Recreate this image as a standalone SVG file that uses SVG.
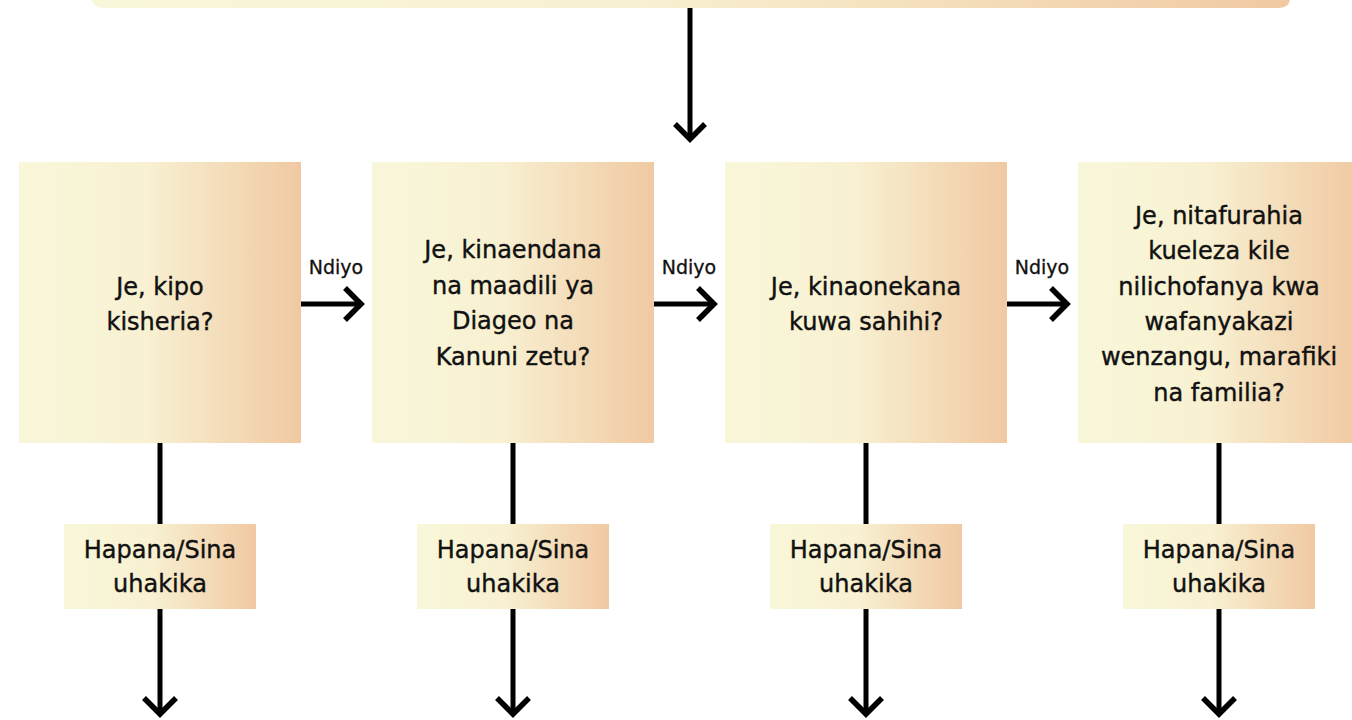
<svg xmlns="http://www.w3.org/2000/svg" width="1352" height="720" viewBox="0 0 1352 720">
<defs>
<linearGradient id="g" x1="0" y1="0" x2="1" y2="0">
<stop offset="0" stop-color="#F9F7DA"/>
<stop offset="0.45" stop-color="#F8F1D2"/>
<stop offset="1" stop-color="#F0C9A2"/>
</linearGradient>
<style>
.box{fill:url(#g);}
.t{font-family:"DejaVu Sans","Liberation Sans",sans-serif;font-size:24px;fill:#111;stroke:#111;stroke-width:0.4;text-anchor:middle;}
.lbl{font-family:"DejaVu Sans","Liberation Sans",sans-serif;font-size:19px;fill:#111;stroke:#111;stroke-width:0.3;text-anchor:middle;}
.ln{stroke:#000;stroke-width:5;fill:none;}
.hd{stroke:#000;stroke-width:5.5;fill:none;stroke-linecap:butt;stroke-linejoin:miter;}
</style>
</defs>
<g id="top"><path class="box" d="M92,-10 H1290 V-2 Q1290,8 1278,8 H104 Q92,8 92,-2 Z"/></g>
<g id="connectors">
<line class="ln" x1="690" y1="8" x2="690" y2="140"/>
<polyline class="hd" points="675,124 690,139 705,124"/>
<line class="ln" x1="301" y1="304" x2="360" y2="304"/>
<polyline class="hd" points="345,288 361,304 345,320"/>
<line class="ln" x1="654" y1="304" x2="713" y2="304"/>
<polyline class="hd" points="698,288 714,304 698,320"/>
<line class="ln" x1="1007" y1="304" x2="1066" y2="304"/>
<polyline class="hd" points="1051,288 1067,304 1051,320"/>
<line class="ln" x1="160" y1="443" x2="160" y2="714"/>
<polyline class="hd" points="144,698 160,714 176,698"/>
<line class="ln" x1="513" y1="443" x2="513" y2="714"/>
<polyline class="hd" points="497,698 513,714 529,698"/>
<line class="ln" x1="866" y1="443" x2="866" y2="714"/>
<polyline class="hd" points="850,698 866,714 882,698"/>
<line class="ln" x1="1219" y1="443" x2="1219" y2="714"/>
<polyline class="hd" points="1203,698 1219,714 1235,698"/>
<text class="lbl" x="336" y="274">Ndiyo</text>
<text class="lbl" x="689" y="274">Ndiyo</text>
<text class="lbl" x="1042" y="274">Ndiyo</text>
</g>
<g id="q1"><rect class="box" x="19" y="162" width="282" height="281"/>
<text class="t" x="160" y="295">Je, kipo</text><text class="t" x="160" y="330">kisheria?</text></g>
<g id="q2"><rect class="box" x="372" y="162" width="282" height="281"/>
<text class="t" x="513" y="258">Je, kinaendana</text><text class="t" x="513" y="294">na maadili ya</text><text class="t" x="513" y="329">Diageo na</text><text class="t" x="513" y="365">Kanuni zetu?</text></g>
<g id="q3"><rect class="box" x="725" y="162" width="282" height="281"/>
<text class="t" x="866" y="295">Je, kinaonekana</text><text class="t" x="866" y="330">kuwa sahihi?</text></g>
<g id="q4"><rect class="box" x="1078" y="162" width="282" height="281"/>
<text class="t" x="1219" y="224">Je, nitafurahia</text><text class="t" x="1219" y="259">kueleza kile</text><text class="t" x="1219" y="295">nilichofanya kwa</text><text class="t" x="1219" y="330">wafanyakazi</text><text class="t" x="1219" y="365">wenzangu, marafiki</text><text class="t" x="1219" y="401">na familia?</text></g>
<g id="n1"><rect class="box" x="64" y="524" width="192" height="85"/>
<text class="t" x="160" y="558">Hapana/Sina</text><text class="t" x="160" y="592">uhakika</text></g>
<g id="n2"><rect class="box" x="417" y="524" width="192" height="85"/>
<text class="t" x="513" y="558">Hapana/Sina</text><text class="t" x="513" y="592">uhakika</text></g>
<g id="n3"><rect class="box" x="770" y="524" width="192" height="85"/>
<text class="t" x="866" y="558">Hapana/Sina</text><text class="t" x="866" y="592">uhakika</text></g>
<g id="n4"><rect class="box" x="1123" y="524" width="192" height="85"/>
<text class="t" x="1219" y="558">Hapana/Sina</text><text class="t" x="1219" y="592">uhakika</text></g>
</svg>
